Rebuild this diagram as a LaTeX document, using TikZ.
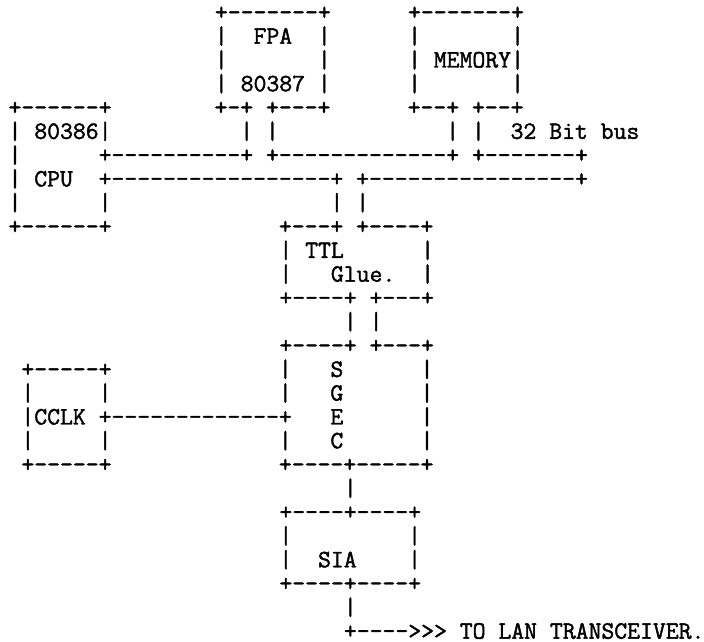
\documentclass[tikz,border=0pt]{standalone}
\usepackage{fontspec}
\newfontfamily\asciifont[Ligatures=TeXOff,FakeBold=1.6]{Latin Modern Mono}
\tikzset{asciirowstyle/.style={anchor=base west, inner sep=0pt, outer sep=0pt,
  font=\asciifont\fontsize{25}{26}\selectfont}}
% #1 name, #2 row, #3 first column, #4 text
\newcommand\asciirow[4]{\node[asciirowstyle] (#1) at ({8.55+12.9*#3},{642-19.9-23.8*#2}) {#4};}
\begin{document}
\frenchspacing
\begin{tikzpicture}[x=1pt,y=1pt]
\useasboundingbox (0,0) rectangle (704,642);
\fill[white] (0,0) rectangle (704,642);
\asciirow{r0}{0}{16}{+-------+~~~~~~+-------+}
\asciirow{r1}{1}{16}{|~~FPA~~|~~~~~~|~~~~~~~|}
\asciirow{r2}{2}{16}{|~~~~~~~|~~~~~~|~MEMORY|}
\asciirow{r3}{3}{16}{|~80387~|~~~~~~|~~~~~~~|}
\asciirow{r4}{4}{0}{+------+~~~~~~~~+-+~+---+~~~~~~+--+~+--+}
\asciirow{r5}{5}{0}{|~80386|~~~~~~~~~~|~|~~~~~~~~~~~~~|~|~~32~Bit~bus}
\asciirow{r6}{6}{0}{|~~~~~~+----------+~+-------------+~+-------+}
\asciirow{r7}{7}{0}{|~CPU~~+-----------------+~+----------------+}
\asciirow{r8}{8}{0}{|~~~~~~|~~~~~~~~~~~~~~~~~|~|}
\asciirow{r9}{9}{0}{+------+~~~~~~~~~~~~~+---+~+----+}
\asciirow{r10}{10}{21}{|~TTL~~~~~~|}
\asciirow{r11}{11}{21}{|~~~Glue.~~|}
\asciirow{r12}{12}{21}{+----+~+---+}
\asciirow{r13}{13}{26}{|~|}
\asciirow{r14}{14}{21}{+----+~+---+}
\asciirow{r15}{15}{1}{+-----+~~~~~~~~~~~~~|~~~S~~~~~~|}
\asciirow{r16}{16}{1}{|~~~~~|~~~~~~~~~~~~~|~~~G~~~~~~|}
\asciirow{r17}{17}{1}{|CCLK~+-------------+~~~E~~~~~~|}
\asciirow{r18}{18}{1}{|~~~~~|~~~~~~~~~~~~~|~~~C~~~~~~|}
\asciirow{r19}{19}{1}{+-----+~~~~~~~~~~~~~+----+-----+}
\asciirow{r20}{20}{26}{|}
\asciirow{r21}{21}{21}{+----+----+}
\asciirow{r22}{22}{21}{|~~~~~~~~~|}
\asciirow{r23}{23}{21}{|~~SIA~~~~|}
\asciirow{r24}{24}{21}{+----+----+}
\asciirow{r25}{25}{26}{|}
\asciirow{r26}{26}{26}{+---->>>~TO~LAN~TRANSCEIVER.}
\end{tikzpicture}
\end{document}
